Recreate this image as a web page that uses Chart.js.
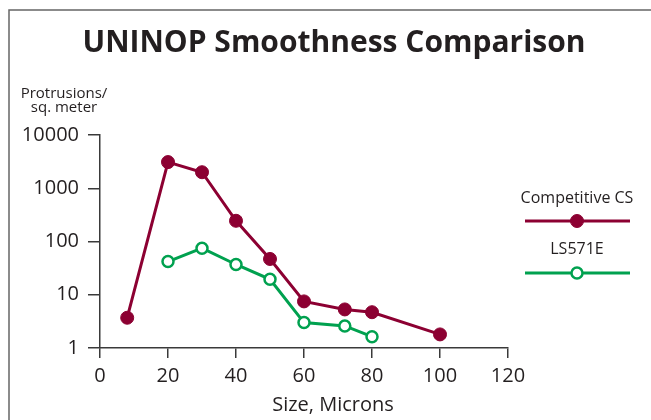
<!DOCTYPE html>
<html>
<head>
<meta charset="utf-8">
<script src="https://cdn.jsdelivr.net/npm/chart.js@4.4.1/dist/chart.umd.min.js"></script>
<style>
    html, body { margin: 0; padding: 0; background: #fff; }
    #wrap { width: 651px; height: 420px; }
</style>
</head>
<body>
<div id="wrap"><canvas id="chart" width="651" height="420"></canvas></div>
<script>
const titleText = 'UNINOP Smoothness Comparison';
const yTitleLines = ['Protrusions/', 'sq. meter'];
const xTitle = 'Size, Microns';

const competitiveSizes = [8, 20, 30, 40, 50, 60, 72, 80, 100];
const competitiveCounts = [3.7, 3100, 2000, 245, 47, 7.5, 5.3, 4.7, 1.8];
const ls571eSizes = [20, 30, 40, 50, 60, 72, 80];
const ls571eCounts = [42, 75, 37, 19.5, 3.0, 2.6, 1.63];
const yTicks = [1, 10, 100, 1000, 10000];

const red = '#8c0032';
const green = '#00a14f';
const ink = '#231f20';
const axisColor = '#3a3a3a';

Chart.defaults.font.family = "'Open Sans', sans-serif";
Chart.defaults.color = ink;

const toPoints = (xs, ys) => xs.map((x, i) => ({ x: x, y: ys[i] }));

// frame, titles and the legend are drawn by hand
const decorations = {
    id: 'decorations',
    beforeDraw(chart) {
        const c = chart.ctx;
        c.save();
        c.strokeStyle = '#666';
        c.lineWidth = 1.5;
        c.beginPath();
        c.moveTo(9, 420);
        c.lineTo(9, 10);
        c.lineTo(651, 10);
        c.stroke();
        c.restore();
    },
    afterDraw(chart) {
        const c = chart.ctx;
        c.save();
        c.fillStyle = ink;
        c.textAlign = 'center';
        c.textBaseline = 'alphabetic';
        c.font = "bold 30px 'Open Sans'";
        c.fillText(titleText, 334, 52);

        c.font = "15px 'Open Sans'";
        c.fillText(yTitleLines[0], 64, 98);
        c.fillText(yTitleLines[1], 64, 112);

        c.font = "20px 'Open Sans'";
        c.fillText(xTitle, 333, 411);

        const items = [
            { y: 198, lineY: 221 },
            { y: 249, lineY: 273 },
        ];
        chart.data.datasets.forEach((ds, i) => {
            const it = items[i];
            c.fillStyle = ink;
            c.font = "16px 'Open Sans'";
            c.textBaseline = 'middle';
            c.fillText(ds.label, 577, it.y);
            c.strokeStyle = ds.borderColor;
            c.lineWidth = ds.borderWidth;
            c.beginPath();
            c.moveTo(525, it.lineY);
            c.lineTo(630, it.lineY);
            c.stroke();
            c.beginPath();
            c.arc(577, it.lineY, ds.pointRadius, 0, Math.PI * 2);
            c.fillStyle = ds.pointBackgroundColor;
            c.fill();
            c.lineWidth = ds.pointBorderWidth;
            c.strokeStyle = ds.pointBorderColor;
            c.stroke();
        });
        c.restore();
    }
};

new Chart(document.getElementById('chart'), {
    type: 'line',
    data: {
        datasets: [{
            label: 'Competitive CS',
            data: toPoints(competitiveSizes, competitiveCounts),
            borderColor: red,
            borderWidth: 3,
            pointRadius: 6.5,
            pointBackgroundColor: red,
            pointBorderColor: red,
            pointBorderWidth: 1,
            tension: 0,
        }, {
            label: 'LS571E',
            data: toPoints(ls571eSizes, ls571eCounts),
            borderColor: green,
            borderWidth: 3,
            pointRadius: 5.5,
            pointBackgroundColor: '#fff',
            pointBorderColor: green,
            pointBorderWidth: 2.5,
            tension: 0,
        }],
    },
    options: {
        responsive: false,
        animation: false,
        devicePixelRatio: 1,
        clip: false,
        layout: { padding: { left: 0, right: 143, top: 135, bottom: 0 } },
        plugins: {
            legend: { display: false },
            title: { display: false },
            tooltip: { enabled: false },
        },
        scales: {
            x: {
                type: 'linear',
                min: 0,
                max: 120,
                ticks: { stepSize: 20, font: { size: 20 }, padding: 6, color: ink },
                grid: { drawOnChartArea: false, tickLength: 10, color: axisColor, lineWidth: 1.5 },
                border: { color: axisColor, width: 1.5 },
                afterFit: s => { s.height = 72; },
            },
            y: {
                type: 'logarithmic',
                min: 1,
                max: 10000,
                afterBuildTicks: s => { s.ticks = yTicks.map(v => ({ value: v })); },
                ticks: { font: { size: 20 }, padding: 9, color: ink, callback: v => String(v) },
                grid: { drawOnChartArea: false, tickLength: 12, color: axisColor, lineWidth: 1.5 },
                border: { color: axisColor, width: 1.5 },
                afterFit: s => { s.width = 100; },
            },
        },
    },
    plugins: [decorations],
});
</script>
</body>
</html>
